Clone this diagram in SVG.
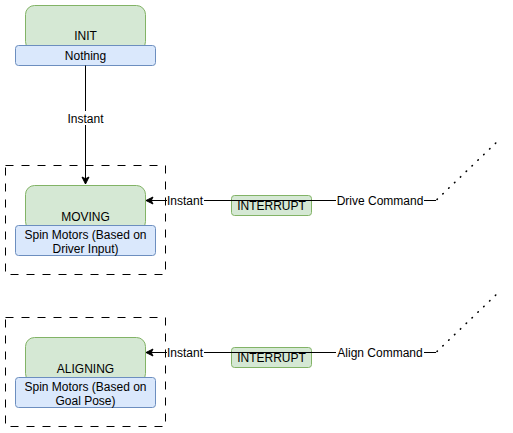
<svg xmlns="http://www.w3.org/2000/svg" width="513" height="433" viewBox="0 0 513 433">
<style>
text{font-family:"Liberation Sans",Arial,Helvetica,sans-serif;font-size:12px;fill:#000;text-anchor:middle}
.state{fill:#d5e8d4;stroke:#82b366;stroke-width:1}
.action{fill:#dae8fc;stroke:#6c8ebf;stroke-width:1}
.group{fill:none;stroke:#000;stroke-width:1;stroke-dasharray:8 8}
.edge{fill:none;stroke:#000;stroke-width:1}
.dotted{fill:none;stroke:#000;stroke-width:1.6;stroke-dasharray:0.5 7.6;stroke-linecap:round}
.lbl{fill:#fff}
</style>
<defs>
<marker id="arrow" markerUnits="userSpaceOnUse" markerWidth="10" markerHeight="10" viewBox="-8 -5 10 10" refX="0" refY="0" orient="auto">
<path d="M0,0 L-7,-3.5 L-5.25,0 L-7,3.5 Z" fill="#000" stroke="#000" stroke-width="1"/>
</marker>
</defs>
<g id="group-moving"><rect class="group" x="5.5" y="165.5" width="160" height="109"/></g>
<g id="group-aligning"><rect class="group" x="5.5" y="317.5" width="160" height="109"/></g>
<g id="init">
<rect class="state" x="25.5" y="5.5" width="120" height="45" rx="9"/>
<rect class="action" x="15.5" y="45.5" width="140" height="20" rx="3"/>
<text x="85.5" y="40">INIT</text>
<text x="85.5" y="60">Nothing</text>
</g>
<g id="moving">
<rect class="state" x="25.5" y="185.5" width="120" height="45" rx="9"/>
<rect class="action" x="15.5" y="225.5" width="140" height="30" rx="3"/>
<text x="85.5" y="221">MOVING</text>
<text x="85.5" y="238.5">Spin Motors (Based on</text>
<text x="85.5" y="252.5">Driver Input)</text>
</g>
<g id="aligning">
<rect class="state" x="25.5" y="337.5" width="120" height="45" rx="9"/>
<rect class="action" x="15.5" y="377.5" width="140" height="30" rx="3"/>
<text x="85.5" y="373">ALIGNING</text>
<text x="85.5" y="390.5">Spin Motors (Based on</text>
<text x="85.5" y="404.5">Goal Pose)</text>
</g>
<g id="interrupt-1">
<rect class="state" x="231.5" y="195.5" width="80" height="20" rx="3"/>
<text x="271.5" y="210">INTERRUPT</text>
</g>
<g id="interrupt-2">
<rect class="state" x="231.5" y="347.5" width="80" height="20" rx="3"/>
<text x="271.5" y="362">INTERRUPT</text>
</g>
<g id="connectors">
<path class="edge" d="M85.5 65.5 L85.5 184" marker-end="url(#arrow)"/>
<rect class="lbl" x="71" y="111" width="29" height="14"/>
<text x="85.5" y="122.5">Instant</text>

<path class="edge" d="M436 200.5 L146 200.5" marker-end="url(#arrow)"/>
<path class="dotted" d="M437 199.5 L501 138"/>
<rect class="lbl" x="167" y="194" width="37" height="13"/>
<text x="185" y="204.5">Instant</text>
<rect class="lbl" x="336" y="194" width="88" height="13"/>
<text x="380" y="204.5">Drive Command</text>

<path class="edge" d="M436 352.5 L146 352.5" marker-end="url(#arrow)"/>
<path class="dotted" d="M437 351.5 L501 290"/>
<rect class="lbl" x="167" y="346" width="37" height="13"/>
<text x="185" y="356.5">Instant</text>
<rect class="lbl" x="336" y="346" width="88" height="13"/>
<text x="380" y="356.5">Align Command</text>
</g>
</svg>
